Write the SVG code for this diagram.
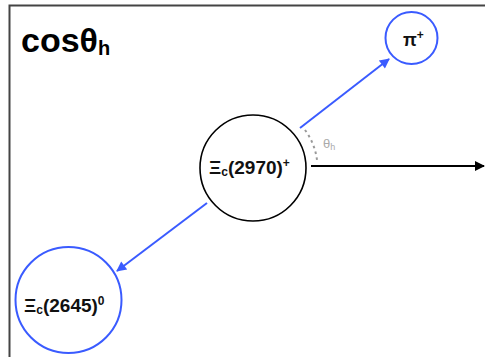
<svg xmlns="http://www.w3.org/2000/svg" width="485" height="357" viewBox="0 0 485 357">
<defs>
<style>
.lbl{font-family:"Liberation Sans",Arial,sans-serif;font-weight:bold;fill:#111}
.sub{font-size:12px}
.blue{stroke:#3a5bff;stroke-width:2;fill:none}
</style>
<marker id="ab" viewBox="0 0 10 10" refX="9" refY="5" markerWidth="6" markerHeight="5" orient="auto" markerUnits="strokeWidth"><path d="M0,0 L10,5 L0,10 z" fill="#3a5bff"/></marker>
<marker id="ak" viewBox="0 0 10 10" refX="9" refY="5" markerWidth="6" markerHeight="5" orient="auto" markerUnits="strokeWidth"><path d="M0,0 L10,5 L0,10 z" fill="#000"/></marker>
</defs>
<rect width="485" height="357" fill="#fff"/>
<path d="M9.5,357 V5.5 H485" fill="none" stroke="#444" stroke-width="2"/>
<text x="21" y="52" font-family="Liberation Sans,Arial,sans-serif" font-size="34" font-weight="bold" fill="#000">cosθ<tspan font-size="20" dy="3">h</tspan></text>
<g id="connectors">
<line class="blue" x1="300" y1="128" x2="389" y2="59" marker-end="url(#ab)"/>
<line class="blue" x1="207" y1="203" x2="117" y2="271" marker-end="url(#ab)"/>
<line x1="311" y1="166" x2="484" y2="166" stroke="#000" stroke-width="2" marker-end="url(#ak)"/>
<path d="M305,130 A64,64 0 0 1 317,160" fill="none" stroke="#999" stroke-width="2" stroke-dasharray="2.5,3.5"/>
<text x="323" y="148" font-family="Liberation Sans,Arial,sans-serif" font-size="13" fill="#aaa">θ<tspan font-size="9" dy="2">h</tspan></text>
</g>
<g id="xic2970">
<circle cx="253" cy="168" r="53" fill="#fff" stroke="#000" stroke-width="1.6"/>
<text class="lbl" x="209" y="174" font-size="19">Ξ<tspan class="sub" dy="2">c</tspan><tspan dy="-2">(2970)</tspan><tspan class="sub" dy="-7">+</tspan></text>
</g>
<g id="pi">
<circle cx="411.5" cy="38" r="26" fill="#fff" stroke="#3a5bff" stroke-width="2"/>
<text class="lbl" x="403" y="46" font-size="18">π<tspan class="sub" dy="-7">+</tspan></text>
</g>
<g id="xic2645">
<circle cx="68.5" cy="300" r="53" fill="#fff" stroke="#3a5bff" stroke-width="2"/>
<text class="lbl" x="24" y="312" font-size="19">Ξ<tspan class="sub" dy="2">c</tspan><tspan dy="-2">(2645)</tspan><tspan class="sub" dy="-7">0</tspan></text>
</g>
</svg>
